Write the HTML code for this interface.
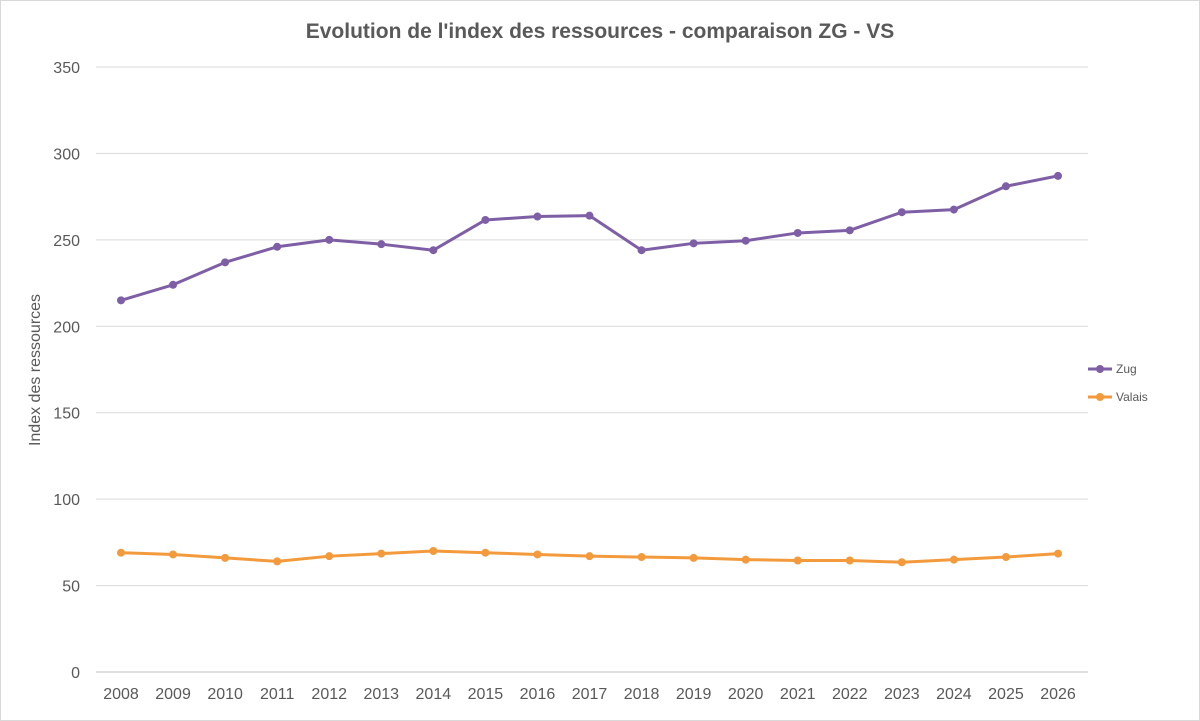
<!DOCTYPE html>
<html><head><meta charset="utf-8"><style>
body{margin:0;background:#fff;}
svg{display:block;font-family:"Liberation Sans",Arial,sans-serif;}
</style></head><body>
<svg id="chart" width="1200" height="721">
<rect x="0.5" y="0.5" width="1199" height="720" fill="#fff" stroke="#d9d9d9"/>
<text x="600" y="38" text-anchor="middle" font-size="21" font-weight="bold" fill="#595959">Evolution de l'index des ressources - comparaison ZG - VS</text>
<text transform="translate(40,370) rotate(-90)" text-anchor="middle" font-size="16" fill="#595959">Index des ressources</text>
<g id="grid"></g><g id="series"></g>
<g>
<line x1="1088" y1="369" x2="1112" y2="369" stroke="#7e5fa6" stroke-width="3"/><circle cx="1100" cy="369" r="4" fill="#7e5fa6"/>
<text x="1116" y="373" font-size="12" fill="#595959">Zug</text>
<line x1="1088" y1="397" x2="1112" y2="397" stroke="#f39a3c" stroke-width="3"/><circle cx="1100" cy="397" r="4" fill="#f39a3c"/>
<text x="1116" y="401" font-size="12" fill="#595959">Valais</text>
</g>
</svg>
<script>
const years=[2008,2009,2010,2011,2012,2013,2014,2015,2016,2017,2018,2019,2020,2021,2022,2023,2024,2025,2026];
const zug=[215,224,237,246,250,247.5,244,261.5,263.5,264,244,248,249.5,254,255.5,266,267.5,281,287];
const valais=[69,68,66,64,67,68.5,70,69,68,67,66.5,66,65,64.5,64.5,63.5,65,66.5,68.5];
const yTicks=[0,50,100,150,200,250,300,350];
const NS="http://www.w3.org/2000/svg";
const x=i=>121+i*(937/18);
const y=v=>672-v*(605/350);
const grid=document.getElementById('grid'),ser=document.getElementById('series');
function mk(tag,attrs,parent){const e=document.createElementNS(NS,tag);for(const k in attrs)e.setAttribute(k,attrs[k]);parent.appendChild(e);return e;}
yTicks.forEach(t=>{
  const l=mk('line',{x1:96,x2:1088,y1:y(t),y2:y(t),stroke:t===0?'#bfbfbf':'#d9d9d9','stroke-width':1},grid);
  
  
  const tx=mk('text',{x:80,y:y(t)+6,'text-anchor':'end','font-size':16,fill:'#595959'},grid);
  tx.textContent=t;
  
  
});
years.forEach((yr,i)=>{
  const tx=mk('text',{x:x(i),y:699,'text-anchor':'middle','font-size':16,fill:'#595959'},grid);
  tx.textContent=yr;
  
  
});
function draw(vals,color,name){
  const p=mk('polyline',{points:vals.map((v,i)=>x(i)+','+y(v)).join(' '),fill:'none',stroke:color,'stroke-width':3,'stroke-linejoin':'round'},ser);
  
  
  vals.forEach((v,i)=>{
    const c=mk('circle',{cx:x(i),cy:y(v),r:4,fill:color},ser);
    
    
  });
}
draw(zug,'#7e5fa6','zug');
draw(valais,'#f39a3c','valais');
</script>
</body></html>
